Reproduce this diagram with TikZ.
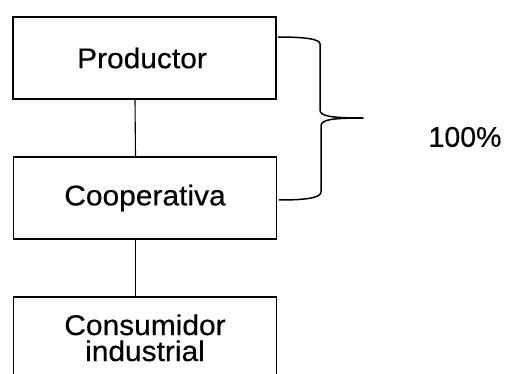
\documentclass[tikz,border=0pt]{standalone}
\usepackage{fontspec}
\setmainfont{Liberation Sans}[FakeStretch=1.05,FakeBold=0.4]
\begin{document}
\begin{tikzpicture}[x=1pt,y=1pt,
  box/.style={draw,line width=1.6pt,inner sep=0pt,minimum width=263pt,minimum height=82pt},
  lbl/.style={font=\fontsize{28.5}{27}\selectfont,align=center},
  conn/.style={line width=1.1pt},
  brace/.style={line width=1.5pt,line join=round}]
\useasboundingbox (0,0) rectangle (506,373);
\clip (0,0) rectangle (506,373);
\node[box] (p) at (144.5,315) {};
\node[lbl] at (142,315) {Productor};
\node[box] (c) at (145,175) {};
\node[lbl] at (145,175) {Cooperativa};
\node[box,minimum height=100pt,anchor=north] (i) at (145,77) {};
\node[lbl,anchor=base] (it1) at (145,38) {Consumidor};
\node[lbl,anchor=base] (it2) at (145,12) {industrial};
\node[lbl,font=\fontsize{28.5}{27}\selectfont\addfontfeature{FakeStretch=1.0}] (pct) at (465,236) {100\%};
\draw[conn] ([xshift=-9.5pt]p.south) -- ([xshift=-9.5pt]c.north);
\draw[conn] ([xshift=-9.5pt]c.south) -- ([xshift=-9.5pt]i.north);
\coordinate (b1) at (278,336);
\coordinate (b2) at (279,173);
\coordinate (tip) at (363,255);
\draw[brace] (b1) .. controls (305,336) and (320,334) .. (320,329)
  -- (320,263) .. controls (320,257) and (330,255) .. (tip)
  .. controls (330,255) and (321,253) .. (321,247)
  -- (321,181) .. controls (321,175) and (305,173) .. (b2);
\end{tikzpicture}
\end{document}
